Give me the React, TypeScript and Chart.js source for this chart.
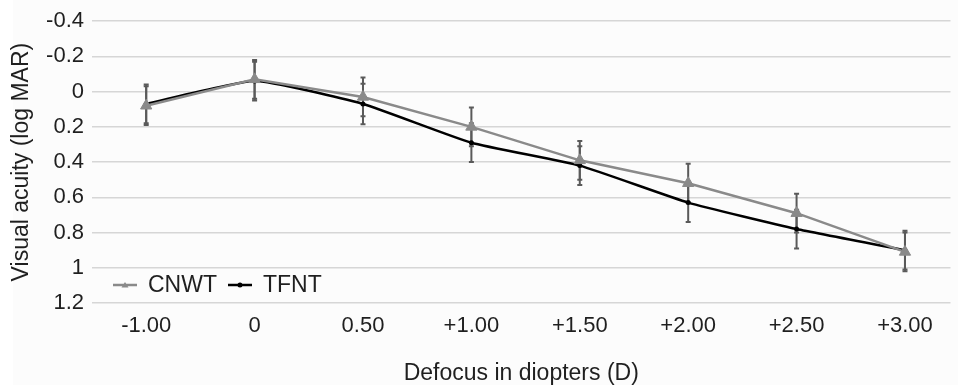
import React, { useEffect, useRef } from "react";
import { Chart, registerables } from "chart.js";

Chart.register(...registerables);

const categories = ["-1.00", "0", "0.50", "+1.00", "+1.50", "+2.00", "+2.50", "+3.00"];
const cnwtValues = [0.08, -0.07, 0.03, 0.2, 0.39, 0.52, 0.69, 0.91];
const cnwtErrors = [0.11, 0.11, 0.11, 0.11, 0.11, 0.11, 0.11, 0.11];
const tfntValues = [0.07, -0.06, 0.07, 0.29, 0.42, 0.63, 0.78, 0.9];
const tfntErrors = [0.11, 0.11, 0.115, 0.11, 0.11, 0.11, 0.11, 0.11];
const yTickValues = [-0.4, -0.2, 0, 0.2, 0.4, 0.6, 0.8, 1, 1.2];
const yTickLabels = ["-0.4", "-0.2", "0", "0.2", "0.4", "0.6", "0.8", "1", "1.2"];
const seriesNames = ["CNWT", "TFNT"];
const xAxisTitle = "Defocus in diopters (D)";
const yAxisTitle = "Visual acuity (log MAR)";

const FONT = "'Liberation Sans', Arial, Helvetica, sans-serif";
const TEXT = "#1f1f1f";
const GRAY = "#8a8a8a";
const BLACK = "#000000";
const ERR = "#5a5a5a";

const errorBarPlugin = {
  id: "errorBars",
  beforeDatasetsDraw(chart: any) {
    const ctx = chart.ctx;
    const yScale = chart.scales.y;
    chart.data.datasets.forEach((ds: any, di: number) => {
      const meta = chart.getDatasetMeta(di);
      const errs: number[] = ds.errors || [];
      ctx.save();
      ctx.strokeStyle = ERR;
      ctx.lineWidth = 2;
      meta.data.forEach((pt: any, i: number) => {
        const v = ds.data[i].y;
        const e = errs[i];
        if (e == null) return;
        const x = pt.x;
        const y1 = yScale.getPixelForValue(v - e);
        const y2 = yScale.getPixelForValue(v + e);
        ctx.beginPath();
        ctx.moveTo(x, y1);
        ctx.lineTo(x, y2);
        ctx.moveTo(x - 2.5, y1);
        ctx.lineTo(x + 2.5, y1);
        ctx.moveTo(x - 2.5, y2);
        ctx.lineTo(x + 2.5, y2);
        ctx.stroke();
      });
      ctx.restore();
    });
  },
};

const backgroundPlugin = {
  id: "bg",
  beforeDraw(chart: any) {
    const ctx = chart.ctx;
    ctx.save();
    ctx.fillStyle = "#ffffff";
    ctx.fillRect(0, 0, chart.width, chart.height);
    ctx.fillStyle = "#fcfcfc";
    ctx.fillRect(13, 0, chart.width - 13, chart.height - 5);
    ctx.restore();
  },
};

const legendPlugin = {
  id: "insideLegend",
  afterDraw(chart: any) {
    const ctx = chart.ctx;
    const area = chart.chartArea;
    const y = area.bottom - 18;
    let x = area.left + 21;
    ctx.save();
    ctx.font = `23px ${FONT}`;
    ctx.textBaseline = "middle";
    ctx.textAlign = "left";
    chart.data.datasets.forEach((ds: any) => {
      ctx.strokeStyle = ds.borderColor;
      ctx.lineWidth = 2.5;
      ctx.beginPath();
      ctx.moveTo(x, y);
      ctx.lineTo(x + 24, y);
      ctx.stroke();
      ctx.fillStyle = ds.pointBackgroundColor;
      ctx.beginPath();
      if (ds.pointStyle === "triangle") {
        ctx.moveTo(x + 12, y - 3);
        ctx.lineTo(x + 15.5, y + 2.5);
        ctx.lineTo(x + 8.5, y + 2.5);
        ctx.closePath();
      } else {
        ctx.arc(x + 12, y, 2.5, 0, Math.PI * 2);
      }
      ctx.fill();
      x += 24 + 11;
      ctx.fillStyle = TEXT;
      ctx.fillText(ds.label, x, y + 1);
      x += ctx.measureText(ds.label).width + 11;
    });
    ctx.restore();
  },
};

export default function App() {
  const canvasRef = useRef<HTMLCanvasElement | null>(null);

  useEffect(() => {
    document.body.style.margin = "0";
    const canvas = canvasRef.current;
    if (!canvas) return;
    const chart = new Chart(canvas, {
      type: "line",
      data: {
        datasets: [
          {
            label: seriesNames[0],
            data: cnwtValues.map((v, i) => ({ x: i, y: v })),
            errors: cnwtErrors,
            borderColor: GRAY,
            backgroundColor: GRAY,
            pointBackgroundColor: GRAY,
            pointBorderColor: GRAY,
            pointStyle: "triangle",
            pointRadius: 6.5,
            pointBorderWidth: 1,
            borderWidth: 2.5,
            tension: 0,
          } as any,
          {
            label: seriesNames[1],
            data: tfntValues.map((v, i) => ({ x: i, y: v })),
            errors: tfntErrors,
            borderColor: BLACK,
            backgroundColor: BLACK,
            pointBackgroundColor: BLACK,
            pointBorderColor: BLACK,
            pointStyle: "circle",
            pointRadius: 2.5,
            pointBorderWidth: 0,
            borderWidth: 2.5,
            tension: 0.15,
          } as any,
        ],
      },
      options: {
        animation: false,
        responsive: false,
        maintainAspectRatio: false,
        devicePixelRatio: 1,
        layout: { padding: { top: 19, right: 0, left: 0, bottom: 0 } },
        plugins: {
          legend: { display: false },
          tooltip: { enabled: false },
        },
        scales: {
          x: {
            type: "linear",
            min: -0.5,
            max: 7.42,
            afterBuildTicks: (scale: any) => {
              scale.ticks = categories.map((_, i) => ({ value: i }));
            },
            afterFit: (scale: any) => {
              scale.height = 87;
            },
            grid: { display: false, drawTicks: false },
            border: { display: false },
            ticks: {
              autoSkip: false,
              maxRotation: 0,
              padding: 10,
              color: TEXT,
              font: { family: FONT, size: 22 },
              callback: (v: any) => categories[Math.round(Number(v))] ?? "",
            },
            title: {
              display: true,
              text: xAxisTitle,
              color: TEXT,
              font: { family: FONT, size: 23 },
              padding: { top: 0, bottom: 3 },
            },
          },
          y: {
            type: "linear",
            reverse: true,
            min: -0.4,
            max: 1.2,
            afterBuildTicks: (scale: any) => {
              scale.ticks = yTickValues.map((v) => ({ value: v }));
            },
            afterFit: (scale: any) => {
              scale.width = 92;
            },
            grid: { color: "#d6d6d6", lineWidth: 1.5, drawTicks: false },
            border: { display: false },
            ticks: {
              padding: 8,
              color: TEXT,
              font: { family: FONT, size: 22 },
              callback: (v: any) => {
                const idx = yTickValues.findIndex((t) => Math.abs(t - Number(v)) < 1e-6);
                return idx >= 0 ? yTickLabels[idx] : "";
              },
            },
            title: {
              display: true,
              text: yAxisTitle,
              color: TEXT,
              font: { family: FONT, size: 23 },
              padding: { top: 8, bottom: 0 },
            },
          },
        },
      } as any,
      plugins: [backgroundPlugin, errorBarPlugin, legendPlugin],
    });
    return () => chart.destroy();
  }, []);

  return (
    <div style={{ width: 958, height: 390 }}>
      <canvas ref={canvasRef} width={958} height={390} style={{ display: "block", width: 958, height: 390 }} />
    </div>
  );
}
